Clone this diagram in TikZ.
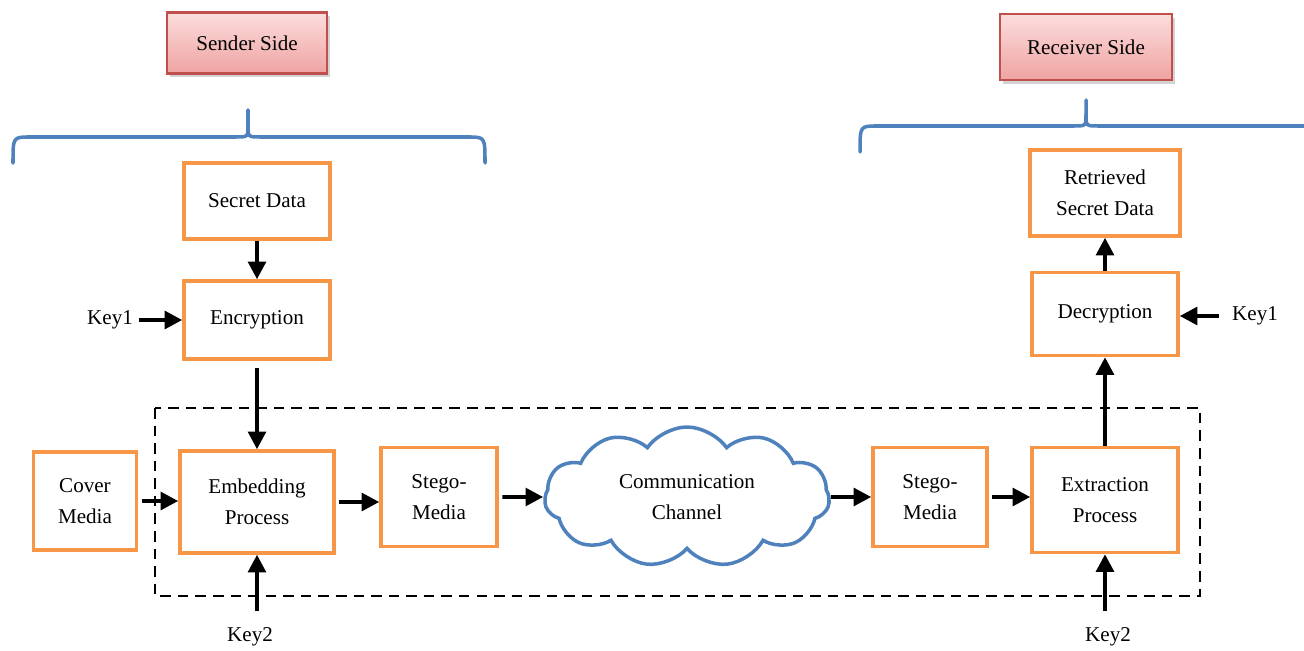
\documentclass[tikz,border=0pt]{standalone}
\usepackage{fontspec}
\setmainfont{Liberation Serif}
\usetikzlibrary{arrows.meta, shapes.symbols, shadows}

\definecolor{boxorange}{HTML}{F79646}
\definecolor{braceblue}{HTML}{4F81BD}
\definecolor{sidered}{HTML}{C0504D}
\definecolor{sidetop}{HTML}{FBDDDC}
\definecolor{sidebot}{HTML}{EFA3A2}

\begin{document}
\begin{tikzpicture}[x=0.02cm, y=-0.02cm,
    font=\fontsize{12}{17.5}\selectfont,
    block/.style={draw=boxorange, line width=2pt, fill=white, align=center},
    side/.style={draw=sidered, line width=1.6pt, top color=sidetop, bottom color=sidebot,
        drop shadow={shadow xshift=1.5pt, shadow yshift=-2pt, opacity=0.35}},
    arr/.style={-{Triangle[length=10pt, width=10pt]}, line width=2.2pt},
    brace/.style={draw=braceblue, line width=2pt, line cap=round}]

    \useasboundingbox (0,0) rectangle (1304,651);

    \node[side, minimum width=3.2cm, minimum height=1.22cm] (sender) at (247,43) {Sender Side};
    \node[side, minimum width=3.44cm, minimum height=1.32cm] (receiver) at (1086,47) {Receiver Side};

    \draw[brace] (13,163) .. controls (13,137) .. (30,137) -- (236,137)
        .. controls (248,137) .. (248,125) -- (248,110);
    \draw[brace] (248,125) .. controls (248,137) .. (260,137) -- (468,137)
        .. controls (485,137) .. (485,163);
    \draw[brace] (860,152) .. controls (860,126) .. (877,126) -- (1074,126)
        .. controls (1086,126) .. (1086,114) -- (1086,100);
    \draw[brace] (1086,114) .. controls (1086,126) .. (1098,126) -- (1304,126);

    \draw[dashed, dash pattern=on 6pt off 4pt, line width=1.4pt] (155,408) rectangle (1200,596);

    \node[block, minimum width=2.92cm, minimum height=1.52cm] (secret) at (257,201) {Secret Data};
    \node[block, minimum width=2.92cm, minimum height=1.56cm] (encrypt) at (257,320) {Encryption};
    \node[block, minimum width=2.06cm, minimum height=1.96cm] (cover) at (85,501) {Cover\\Media};
    \node[block, minimum width=3.08cm, minimum height=2.04cm] (embed) at (257,502) {Embedding\\Process};
    \node[block, minimum width=2.32cm, minimum height=1.98cm] (stegoA) at (439,497) {Stego-\\Media};
    \node[cloud, draw=braceblue, line width=2pt, cloud puffs=11, cloud puff arc=110, aspect=2,
        minimum width=5.7cm, minimum height=2.8cm, align=center] (channel) at (687,497)
        {Communication\\Channel};
    \node[block, minimum width=2.28cm, minimum height=1.98cm] (stegoB) at (930,497) {Stego-\\Media};
    \node[block, minimum width=2.92cm, minimum height=2.1cm] (extract) at (1105,500) {Extraction\\Process};
    \node[block, minimum width=2.92cm, minimum height=1.66cm] (decrypt) at (1105,314) {Decryption};
    \node[block, minimum width=3.0cm, minimum height=1.72cm] (retrieved) at (1105,193) {Retrieved\\Secret Data};

    \node (keyA) at (110,320) {Key1};
    \node (keyB) at (1255,316) {Key1};
    \node (keyC) at (250,637) {Key2};
    \node (keyD) at (1108,637) {Key2};

    \draw[arr] (secret) -- (encrypt);
    \draw[arr, shorten <=4pt] (encrypt) -- (embed);
    \draw[arr] (keyA) -- (encrypt);
    \draw[arr, shorten <=2pt] (cover) -- (embed.west |- cover);
    \draw[arr, shorten <=2pt] (embed.east) -- (stegoA.west |- embed.east);
    \draw[arr, shorten <=2pt] (stegoA) -- (channel);
    \draw[arr] (channel) -- (stegoB);
    \draw[arr, shorten <=2pt] (stegoB) -- (extract.west |- stegoB);
    \draw[arr, shorten <=6pt] (keyC.north -| embed.south) -- (embed.south);
    \draw[arr, shorten <=6pt] (keyD.north -| extract.south) -- (extract.south);
    \draw[arr] (extract) -- (decrypt);
    \draw[arr] (decrypt) -- (retrieved);
    \draw[arr, shorten <=4pt] (keyB) -- (decrypt.east |- keyB);

\end{tikzpicture}
\end{document}
